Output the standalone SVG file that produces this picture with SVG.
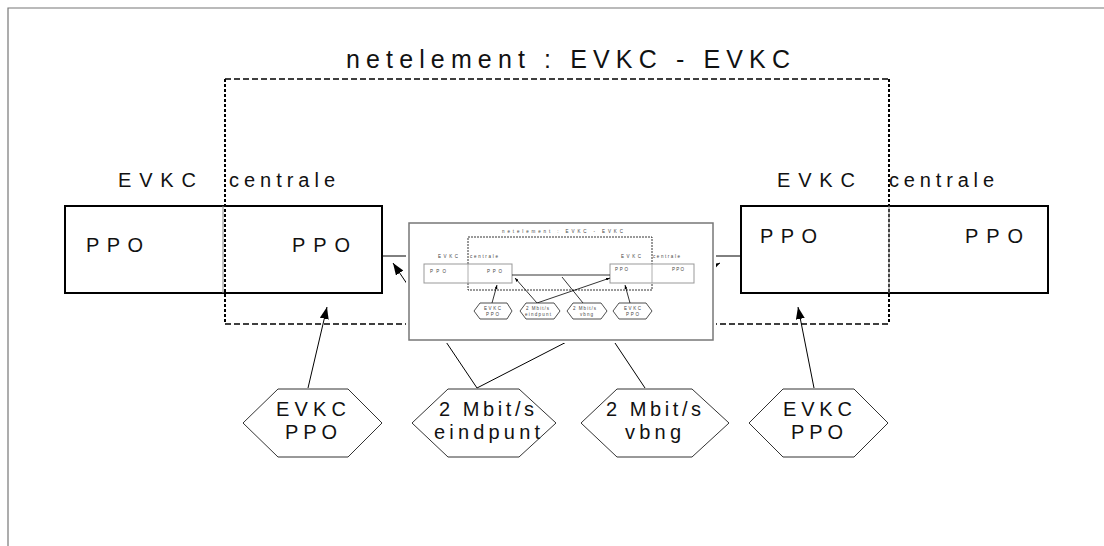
<svg xmlns="http://www.w3.org/2000/svg" width="1104" height="546" viewBox="0 0 1104 546">
<style>
text{font-family:"Liberation Sans",Arial,sans-serif;fill:#111}
.lbl{font-size:20px}
.ttl{font-size:25px}
.box{fill:none;stroke:#000;stroke-width:2}
.div{stroke:#888;stroke-width:1}
.hex{fill:#fff;stroke:#333;stroke-width:1}
.con{stroke:#000;stroke-width:1;fill:none}
.dash{stroke:#000;stroke-width:1.3;stroke-dasharray:6 3;fill:none}
.dot{stroke:#000;stroke-width:2;stroke-dasharray:3 2;fill:none}
.m{font-size:4.5px;fill:#444}
.mbox{fill:#fff;stroke:#999;stroke-width:1}
.mhex{fill:#fff;stroke:#222;stroke-width:0.8}
.mcon{stroke:#000;stroke-width:0.8;fill:none}
</style>
<defs>
<marker id="ah" markerUnits="userSpaceOnUse" markerWidth="12" markerHeight="9" refX="12" refY="4.5" orient="auto"><path d="M0,0 L12,4.5 L0,9 z" fill="#000"/></marker>
<marker id="mah" markerUnits="userSpaceOnUse" markerWidth="4" markerHeight="3" refX="4" refY="1.5" orient="auto"><path d="M0,0 L4,1.5 L0,3 z" fill="#000"/></marker>
</defs>
<rect width="1104" height="546" fill="#fff"/>
<path d="M8,546 V8 H1104" fill="none" stroke="#777" stroke-width="1.2"/>

<g id="title">
<text class="ttl" x="346" y="68" textLength="444" lengthAdjust="spacing">netelement : EVKC - EVKC</text>
</g>

<g id="netelement-frame">
<line class="dash" x1="225" y1="79" x2="889" y2="79"/>
<line class="dash" x1="225" y1="324" x2="889" y2="324"/>
<line class="dot" x1="225" y1="79" x2="225" y2="324"/>
<line class="dot" x1="889" y1="79" x2="889" y2="324"/>
</g>

<g id="labels">
<text class="lbl" x="118" y="187" textLength="78" lengthAdjust="spacing">EVKC</text>
<text class="lbl" x="229" y="187" textLength="106" lengthAdjust="spacing">centrale</text>
<text class="lbl" x="777" y="187" textLength="78" lengthAdjust="spacing">EVKC</text>
<text class="lbl" x="889" y="187" textLength="105" lengthAdjust="spacing">centrale</text>
</g>

<g id="box-left">
<rect class="box" x="65" y="206" width="317" height="87"/>
<line class="div" x1="223" y1="206" x2="223" y2="293"/>
<text class="lbl" x="86" y="252" textLength="57" lengthAdjust="spacing">PPO</text>
<text class="lbl" x="292" y="252" textLength="58" lengthAdjust="spacing">PPO</text>
</g>

<g id="box-right">
<rect class="box" x="741" y="206" width="307" height="87"/>
<line class="div" x1="889" y1="206" x2="889" y2="293"/>
<text class="lbl" x="760" y="243" textLength="57" lengthAdjust="spacing">PPO</text>
<text class="lbl" x="965" y="243" textLength="58" lengthAdjust="spacing">PPO</text>
</g>

<g id="connectors">
<line class="con" x1="382" y1="256" x2="741" y2="256" stroke-width="1.6"/>
<line class="con" x1="308" y1="388" x2="327" y2="307" marker-end="url(#ah)"/>
<line class="con" x1="814" y1="388" x2="798" y2="307" marker-end="url(#ah)"/>
<line class="con" x1="477" y1="388" x2="393" y2="263" marker-end="url(#ah)"/>
<line class="con" x1="477" y1="388" x2="720" y2="263" marker-end="url(#ah)"/>
<line class="con" x1="645" y1="388" x2="557" y2="256"/>
</g>

<g id="miniature">
<rect x="406" y="220" width="310" height="123" fill="#fff"/>
<rect x="409" y="223" width="304" height="117" fill="#fff" stroke="#777" stroke-width="1.5"/>
<text class="m" x="502" y="233" textLength="121" lengthAdjust="spacing">netelement : EVKC - EVKC</text>
<rect x="468" y="237" width="184" height="53" fill="none" stroke="#000" stroke-width="0.8" stroke-dasharray="2 1"/>
<text class="m" x="438" y="258" textLength="20" lengthAdjust="spacing">EVKC</text>
<text class="m" x="470" y="258" textLength="28" lengthAdjust="spacing">centrale</text>
<text class="m" x="621" y="258" textLength="20" lengthAdjust="spacing">EVKC</text>
<text class="m" x="653" y="258" textLength="27" lengthAdjust="spacing">centrale</text>
<rect class="mbox" x="424" y="264" width="88" height="19"/>
<line x1="468" y1="264" x2="468" y2="283" stroke="#999" stroke-width="0.8"/>
<text class="m" x="430" y="273" textLength="16" lengthAdjust="spacing">PPO</text>
<text class="m" x="487" y="273" textLength="15" lengthAdjust="spacing">PPO</text>
<rect class="mbox" x="610" y="264" width="84" height="19"/>
<line x1="652" y1="264" x2="652" y2="283" stroke="#999" stroke-width="0.8"/>
<text class="m" x="615" y="271" textLength="13" lengthAdjust="spacing">PPO</text>
<text class="m" x="672" y="271" textLength="12" lengthAdjust="spacing">PPO</text>
<line class="mcon" x1="512" y1="275" x2="610" y2="275"/>
<line class="mcon" x1="537" y1="303" x2="515" y2="278" marker-end="url(#mah)"/>
<line class="mcon" x1="537" y1="303" x2="610" y2="278" marker-end="url(#mah)"/>
<line class="mcon" x1="583" y1="303" x2="562" y2="277"/>
<line class="mcon" x1="492" y1="303" x2="497" y2="285" marker-end="url(#mah)"/>
<line class="mcon" x1="630" y1="303" x2="625" y2="285" marker-end="url(#mah)"/>
<polygon class="mhex" points="474,311 480,303 507,303 512,311 507,319 480,319"/>
<text class="m" x="484" y="310" textLength="17" lengthAdjust="spacing">EVKC</text>
<text class="m" x="486" y="316" textLength="13" lengthAdjust="spacing">PPO</text>
<polygon class="mhex" points="520,311 526,303 554,303 560,311 554,319 526,319"/>
<text class="m" x="526" y="310" textLength="23" lengthAdjust="spacing">2 Mbit/s</text>
<text class="m" x="525" y="316" textLength="26" lengthAdjust="spacing">eindpunt</text>
<polygon class="mhex" points="567,311 573,303 601,303 607,311 601,319 573,319"/>
<text class="m" x="573" y="310" textLength="23" lengthAdjust="spacing">2 Mbit/s</text>
<text class="m" x="580" y="316" textLength="13" lengthAdjust="spacing">vbng</text>
<polygon class="mhex" points="613,311 619,303 646,303 652,311 646,319 619,319"/>
<text class="m" x="624" y="310" textLength="17" lengthAdjust="spacing">EVKC</text>
<text class="m" x="626" y="316" textLength="13" lengthAdjust="spacing">PPO</text>
</g>

<g id="hex-evkc-ppo-left">
<polygon class="hex" points="243,423 278,389 348,389 382,423 348,457 278,457"/>
<text class="lbl" x="276" y="416" textLength="70" lengthAdjust="spacing">EVKC</text>
<text class="lbl" x="285" y="439" textLength="52" lengthAdjust="spacing">PPO</text>
</g>
<g id="hex-eindpunt">
<polygon class="hex" points="412,423 448,389 519,389 556,423 519,457 448,457"/>
<text class="lbl" x="439" y="416" textLength="95" lengthAdjust="spacing">2 Mbit/s</text>
<text class="lbl" x="434" y="439" textLength="106" lengthAdjust="spacing">eindpunt</text>
</g>
<g id="hex-vbng">
<polygon class="hex" points="581,423 617,389 692,389 729,423 692,457 617,457"/>
<text class="lbl" x="606" y="416" textLength="95" lengthAdjust="spacing">2 Mbit/s</text>
<text class="lbl" x="625" y="439" textLength="56" lengthAdjust="spacing">vbng</text>
</g>
<g id="hex-evkc-ppo-right">
<polygon class="hex" points="749,423 783,389 854,389 888,423 854,457 783,457"/>
<text class="lbl" x="783" y="416" textLength="69" lengthAdjust="spacing">EVKC</text>
<text class="lbl" x="791" y="439" textLength="52" lengthAdjust="spacing">PPO</text>
</g>
</svg>
